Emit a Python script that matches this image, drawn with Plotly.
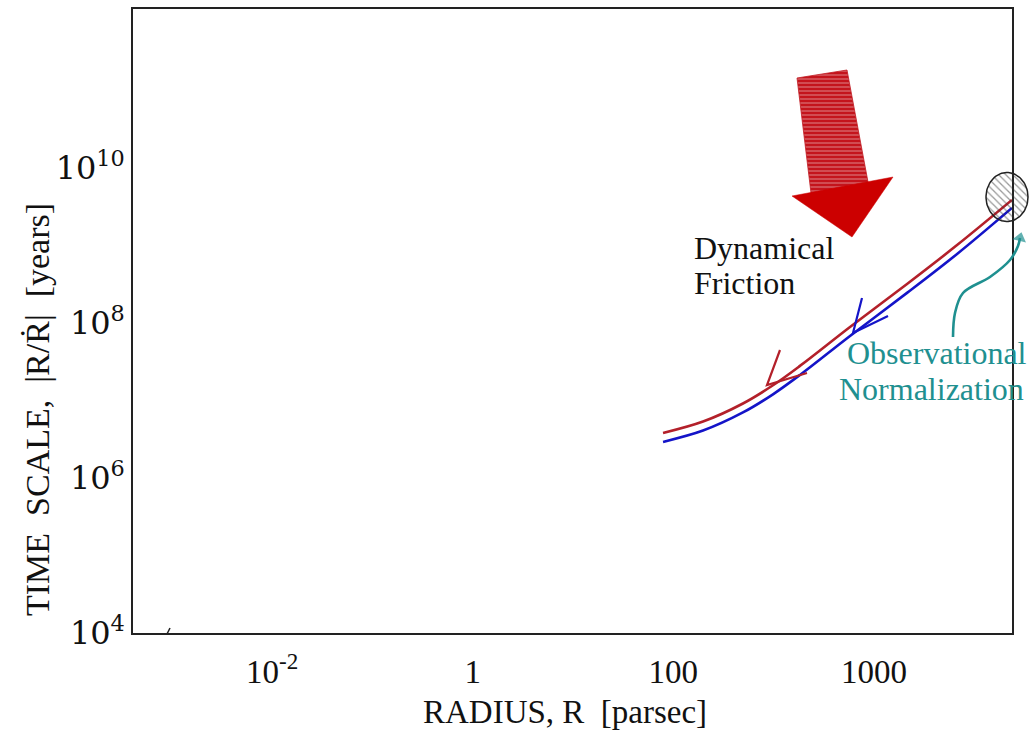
import numpy as np
import plotly.graph_objects as go

# Radius along the inspiral tracks [pc]
radius_pc = [79, 198, 495, 986, 1830, 5780, 21400, 67500, 238000]
# Decay time |R/Rdot| [yr] for the two tracks
t_upper = [3.81e6, 5.35e6, 9.14e6, 1.57e7, 2.79e7, 8.87e7, 3.18e8, 1.01e9, 3.86e9]
t_lower = [2.92e6, 4.09e6, 7.00e6, 1.20e7, 2.13e7, 6.79e7, 2.44e8, 7.76e8, 3.05e9]

x_tickvals = [1e-2, 1, 1e2, 1e4]
x_ticktext = ["10<sup>-2</sup>", "1", "100", "1000"]
y_tickvals = [1e4, 1e6, 1e8, 1e10]
y_ticktext = ["10<sup>4</sup>", "10<sup>6</sup>", "10<sup>8</sup>", "10<sup>10</sup>"]

RED = "#b3202a"
BLUE = "#1414c8"
TEAL = "#1f9090"
SERIF = "Liberation Serif, Times New Roman, serif"

# page geometry (px)
W, H = 1030, 746
ML, MR, MT, MB = 133, 0, 9, 113
FRAME_RIGHT = 1012
plot_w = W - ML - MR
plot_h = H - MT - MB


def px(x):
    """page x (px) -> paper fraction"""
    return (x - ML) / plot_w


def py(y):
    """page y (px) -> paper fraction"""
    return (H - MB - y) / plot_h


fig = go.Figure()

# --- data tracks on the log-log axes ---
fig.add_trace(go.Scatter(x=radius_pc, y=t_upper, mode="lines",
                         line=dict(color=RED, width=2.6, shape="spline", smoothing=1.0),
                         xaxis="x", yaxis="y", showlegend=False))
fig.add_trace(go.Scatter(x=radius_pc, y=t_lower, mode="lines",
                         line=dict(color=BLUE, width=2.6, shape="spline", smoothing=1.0),
                         xaxis="x", yaxis="y", showlegend=False))

# --- illustration layer (page-pixel coordinates on a hidden overlay) ---
shaft_x = [797, 847, 868, 811, 797]
shaft_y = [78, 70, 182, 193, 78]
head_x = [792, 893, 852, 792]
head_y = [196, 177, 237, 196]
fig.add_trace(go.Scatter(x=shaft_x, y=shaft_y, mode="lines", fill="toself",
                         line=dict(color="#c01a22", width=0.8),
                         fillpattern=dict(shape="-", fgcolor="#f4dcdc",
                                          bgcolor="#c4141c", size=4, solidity=0.28),
                         xaxis="x2", yaxis="y2", showlegend=False, hoverinfo="skip"))
fig.add_trace(go.Scatter(x=head_x, y=head_y, mode="lines", fill="toself",
                         fillcolor="#cc0000", line=dict(color="#cc0000", width=0.5),
                         xaxis="x2", yaxis="y2", showlegend=False, hoverinfo="skip"))

# hatched normalisation disc
th = np.linspace(0, 2 * np.pi, 80)
disc_x = 1007 + 21 * np.cos(th)
disc_y = 197 + 24.5 * np.sin(th)
fig.add_trace(go.Scatter(x=disc_x, y=disc_y, mode="lines", fill="toself",
                         line=dict(color="#222222", width=1.5),
                         fillpattern=dict(shape="\\", fgcolor="#333333",
                                          bgcolor="rgba(255,255,255,0)", size=5, solidity=0.25),
                         xaxis="x2", yaxis="y2", showlegend=False, hoverinfo="skip"))

# curved teal pointer
pointer_x = [953, 955, 963, 990, 1010, 1018, 1020]
pointer_y = [337, 313, 293, 277, 260, 246, 238]
fig.add_trace(go.Scatter(x=pointer_x, y=pointer_y, mode="lines+markers",
                         line=dict(color=TEAL, width=2.6, shape="spline"),
                         marker=dict(symbol="triangle-up", angleref="previous",
                                     size=[0, 0, 0, 0, 0, 0, 12], color=TEAL,
                                     line=dict(width=0)),
                         xaxis="x2", yaxis="y2", showlegend=False, hoverinfo="skip"))

shapes = [
    # direction chevrons on the two tracks
    dict(type="path", path="M 780,350 L 767,385 L 807,373", xref="x2", yref="y2",
         line=dict(color=RED, width=2.2)),
    dict(type="path", path="M 862,298 L 853,333 L 888,316", xref="x2", yref="y2",
         line=dict(color=BLUE, width=2.2)),
    # small tick near the lower-left corner
    dict(type="line", x0=167, y0=634, x1=170, y1=628, xref="x2", yref="y2",
         line=dict(color="#222222", width=1.5)),
]

annotations = [
    dict(text="Dynamical", x=px(692), y=py(268), xref="paper", yref="paper", xanchor="left",
         yanchor="bottom", showarrow=False, font=dict(family=SERIF, size=32, color="#111")),
    dict(text="Friction", x=px(692), y=py(303), xref="paper", yref="paper", xanchor="left",
         yanchor="bottom", showarrow=False, font=dict(family=SERIF, size=32, color="#111")),
    dict(text="Observational", x=px(845), y=py(373), xref="paper", yref="paper", xanchor="left",
         yanchor="bottom", showarrow=False, font=dict(family=SERIF, size=32, color=TEAL)),
    dict(text="Normalization", x=px(837), y=py(409), xref="paper", yref="paper", xanchor="left",
         yanchor="bottom", showarrow=False, font=dict(family=SERIF, size=32, color=TEAL)),
    # axis titles
    dict(text="RADIUS,\u00a0R\u00a0\u00a0[parsec]", x=px(565), y=py(712),
         xref="paper", yref="paper", xanchor="center", yanchor="middle", showarrow=False,
         font=dict(family=SERIF, size=33, color="#111")),
    dict(text="TIME\u00a0\u00a0SCALE,\u00a0\u00a0|R/\u1E58|\u00a0\u00a0[years]",
         x=px(38), y=py(410), xref="paper", yref="paper",
         xanchor="center", yanchor="middle", textangle=-90, showarrow=False,
         font=dict(family=SERIF, size=34, color="#111")),
]

fig.update_layout(
    width=W, height=H,
    margin=dict(l=ML, r=MR, t=MT, b=MB, pad=0),
    paper_bgcolor="white", plot_bgcolor="rgba(0,0,0,0)",
    showlegend=False,
    xaxis=dict(type="log", range=[-3.387, 5.377], domain=[0, (FRAME_RIGHT - ML) / plot_w],
               tickvals=x_tickvals, ticktext=x_ticktext, ticks="",
               showgrid=False, zeroline=False, showline=True, mirror=True,
               linecolor="#222222", linewidth=1.5,
               tickfont=dict(family=SERIF, size=33, color="#111"), ticklabelstandoff=9,
               anchor="y"),
    yaxis=dict(type="log", range=[4, 12.05], domain=[0, 1],
               tickvals=y_tickvals, ticktext=y_ticktext, ticks="",
               showgrid=False, zeroline=False, showline=True, mirror=True,
               linecolor="#222222", linewidth=1.5,
               tickfont=dict(family="DejaVu Serif, serif", size=32, color="#111"),
               ticklabelstandoff=0, anchor="x"),
    xaxis2=dict(domain=[0, 1], range=[ML, W - MR], visible=False, anchor="y2",
                fixedrange=True),
    yaxis2=dict(domain=[0, 1], range=[H - MB, MT], visible=False, anchor="x2",
                fixedrange=True),
    shapes=shapes,
    annotations=annotations,
)

fig.write_html("out.html")
